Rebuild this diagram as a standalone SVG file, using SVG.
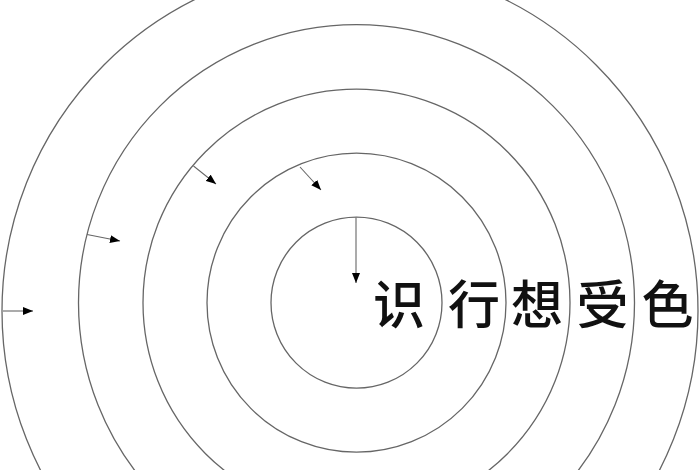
<svg xmlns="http://www.w3.org/2000/svg" width="700" height="470" viewBox="0 0 700 470">
<defs>
<style>
.ring{fill:none;stroke:#666;stroke-width:1.3}
.arr{fill:none;stroke:#666;stroke-width:1.1;marker-end:url(#ah)}
.lbl{font-family:"Noto Sans CJK SC","Noto Sans CJK JP",sans-serif;font-size:52px;font-weight:500;fill:#111;text-anchor:middle;dominant-baseline:central}
</style>
<marker id="ah" viewBox="0 0 10 8" refX="10" refY="4" markerWidth="10" markerHeight="8" markerUnits="userSpaceOnUse" orient="auto">
<path d="M0,0 L10,4 L0,8 Z" fill="#000"/>
</marker>
</defs>
<rect width="700" height="470" fill="#fff"/>
<g id="ring5"><circle class="ring" cx="350" cy="311" r="348"/></g>
<g id="ring4"><circle class="ring" cx="356.5" cy="302.7" r="278"/></g>
<g id="ring3"><circle class="ring" cx="356.5" cy="302.7" r="213.5"/></g>
<g id="ring2"><circle class="ring" cx="356.5" cy="302.7" r="149.5"/></g>
<g id="ring1"><circle class="ring" cx="356.5" cy="302.7" r="85.5"/></g>
<g id="connectors">
<line class="arr" x1="3" y1="311" x2="33" y2="311"/>
<line class="arr" x1="87" y1="234.5" x2="120" y2="241"/>
<line class="arr" x1="193.5" y1="166" x2="216" y2="184"/>
<line class="arr" x1="300" y1="167" x2="321" y2="190"/>
<line class="arr" x1="356" y1="217.5" x2="356" y2="283"/>
</g>
<g id="labels">
<text class="lbl" x="399" y="301">识</text>
<text class="lbl" x="474" y="301">行</text>
<text class="lbl" x="537" y="301">想</text>
<text class="lbl" x="602.5" y="301">受</text>
<text class="lbl" x="667.5" y="301">色</text>
</g>
</svg>
